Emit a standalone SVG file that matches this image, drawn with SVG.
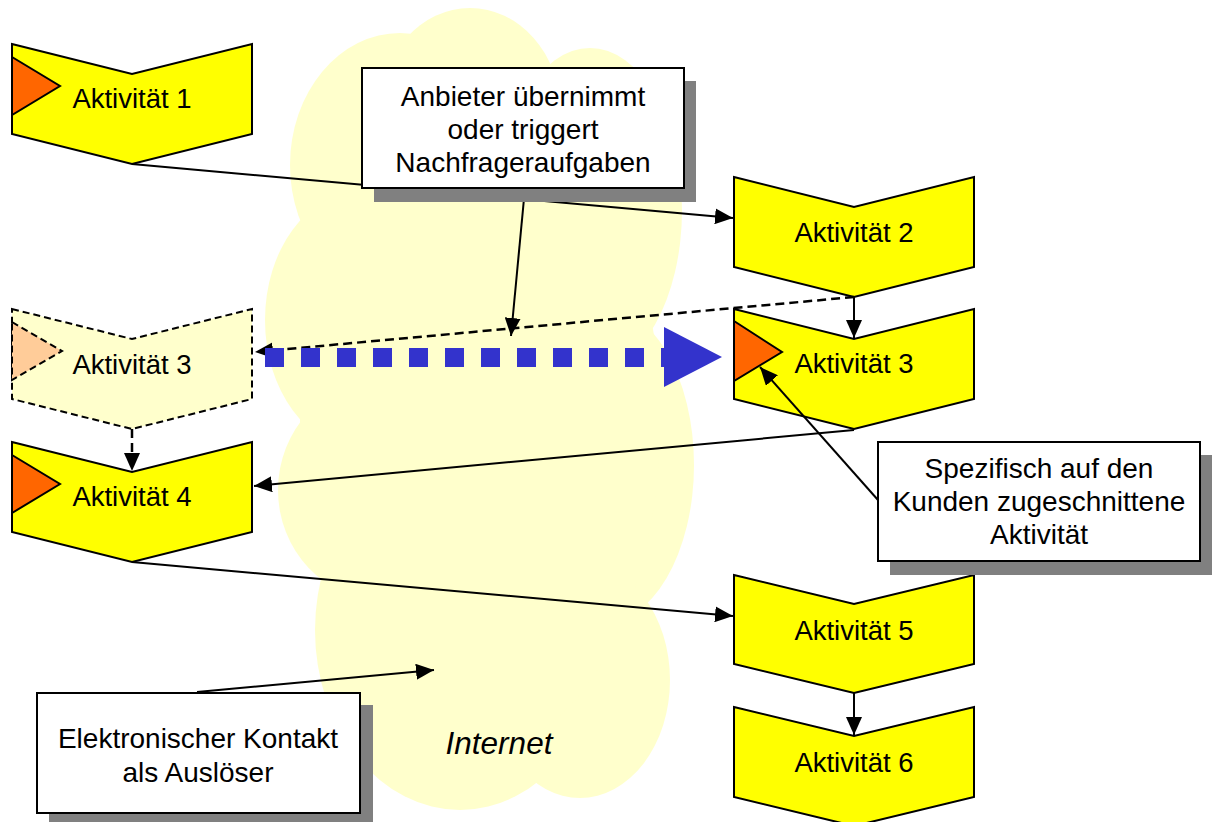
<svg xmlns="http://www.w3.org/2000/svg" width="1212" height="822" viewBox="0 0 1212 822">
<style>
.act{fill:#FFFF00;stroke:#000;stroke-width:2;stroke-linejoin:miter}
.actd{fill:#FFFFCC;stroke:#000;stroke-width:2;stroke-dasharray:7 4}
.tri{fill:#FF6600;stroke:#000;stroke-width:2}
.trid{fill:#FFCC99;stroke:#000;stroke-width:2;stroke-dasharray:7 4}
.lbl{font-family:"Liberation Sans",Arial,sans-serif;font-size:27.5px;fill:#000;text-anchor:middle}
.ctext{font-family:"Liberation Sans",Arial,sans-serif;font-size:28px;fill:#000;text-anchor:middle}
.box{fill:#fff;stroke:#000;stroke-width:2}
.shadow{fill:#808080}
.con{fill:none;stroke:#000;stroke-width:2}
.dash{fill:none;stroke:#000;stroke-width:2.5;stroke-dasharray:9 5}
.cloud{fill:#FFFFCC}
</style>
<defs>
<marker id="ah" markerUnits="userSpaceOnUse" markerWidth="20" markerHeight="16" refX="18" refY="8" orient="auto">
<path d="M0,0 L18,8 L0,16 z" fill="#000"/>
</marker>
</defs>
<g id="cloud" class="cloud">
<ellipse cx="400" cy="165" rx="110" ry="132"/>
<ellipse cx="470" cy="110" rx="90" ry="102"/>
<ellipse cx="590" cy="210" rx="92" ry="162"/>
<ellipse cx="360" cy="320" rx="95" ry="128"/>
<ellipse cx="382" cy="490" rx="104" ry="110"/>
<ellipse cx="460" cy="630" rx="145" ry="180"/>
<ellipse cx="580" cy="680" rx="90" ry="118"/>
<ellipse cx="600" cy="465" rx="94" ry="160"/>
<ellipse cx="480" cy="420" rx="180" ry="330"/>
<text x="499" y="754" style="font-family:'Liberation Sans',Arial,sans-serif;font-size:31.5px;font-style:italic;fill:#000;text-anchor:middle">Internet</text>
</g>
<g id="a1">
<polygon class="act" points="12,44 132,74 252,44 252,134 132,164 12,134"/>
<polygon class="tri" points="12,57 60,86 12,115"/>
<text class="lbl" x="132" y="108">Aktivität 1</text>
</g>
<g id="a2">
<polygon class="act" points="734,177 854,207 974,177 974,267 854,297 734,267"/>
<text class="lbl" x="854" y="242">Aktivität 2</text>
</g>
<g id="a3left">
<polygon class="actd" points="12,309 132,339 252,309 252,399 132,429 12,399"/>
<polygon class="trid" points="12,322 62,351 12,380"/>
<text class="lbl" x="132" y="374">Aktivität 3</text>
</g>
<g id="a3">
<polygon class="act" points="734,309 854,339 974,309 974,399 854,429 734,399"/>
<polygon class="tri" points="734,321 782,352 734,381"/>
<text class="lbl" x="854" y="373">Aktivität 3</text>
</g>
<g id="a4">
<polygon class="act" points="12,442 132,472 252,442 252,532 132,562 12,532"/>
<polygon class="tri" points="12,455 60,484 12,513"/>
<text class="lbl" x="132" y="506">Aktivität 4</text>
</g>
<g id="a5">
<polygon class="act" points="734,575 854,604 974,575 974,664 854,693 734,664"/>
<text class="lbl" x="854" y="640">Aktivität 5</text>
</g>
<g id="a6">
<polygon class="act" points="734,707 854,736 974,707 974,797 854,826 734,797"/>
<text class="lbl" x="854" y="772">Aktivität 6</text>
</g>
<g id="connectors">
<line class="con" x1="132" y1="164" x2="733" y2="218" marker-end="url(#ah)"/>
<line class="con" x1="854" y1="297" x2="854" y2="338" marker-end="url(#ah)"/>
<line class="dash" x1="854" y1="297" x2="255" y2="352" marker-end="url(#ah)"/>
<line x1="265" y1="357.5" x2="672" y2="357.5" stroke="#3333CC" stroke-width="19" stroke-dasharray="19 17"/>
<polygon points="664,327 722,357 664,387" fill="#3333CC"/>
<line class="con" x1="854" y1="430" x2="254" y2="486" marker-end="url(#ah)"/>
<line class="dash" x1="132" y1="429" x2="132" y2="471" marker-end="url(#ah)"/>
<line class="con" x1="132" y1="562" x2="733" y2="616" marker-end="url(#ah)"/>
<line class="con" x1="854" y1="693" x2="854" y2="735" marker-end="url(#ah)"/>
<line class="con" x1="525" y1="188" x2="511" y2="336" marker-end="url(#ah)"/>
<line class="con" x1="878" y1="500" x2="760" y2="367" marker-end="url(#ah)"/>
<line class="con" x1="197" y1="692" x2="434" y2="670" marker-end="url(#ah)"/>
</g>
<g id="callout-anbieter">
<rect class="shadow" x="374" y="81" width="322" height="121"/>
<rect class="box" x="362" y="68" width="322" height="120"/>
<text class="ctext" x="523" y="106">Anbieter übernimmt</text>
<text class="ctext" x="523" y="139">oder triggert</text>
<text class="ctext" x="523" y="172">Nachfrageraufgaben</text>
</g>
<g id="callout-spezifisch">
<rect class="shadow" x="890" y="455" width="322" height="120"/>
<rect class="box" x="878" y="442" width="322" height="119"/>
<text class="ctext" x="1039" y="478">Spezifisch auf den</text>
<text class="ctext" x="1039" y="511">Kunden zugeschnittene</text>
<text class="ctext" x="1039" y="544">Aktivität</text>
</g>
<g id="callout-elektronisch">
<rect class="shadow" x="49" y="705" width="324" height="120"/>
<rect class="box" x="37" y="693" width="323" height="120"/>
<text class="ctext" x="198" y="748">Elektronischer Kontakt</text>
<text class="ctext" x="198" y="782">als Auslöser</text>
</g>
</svg>
